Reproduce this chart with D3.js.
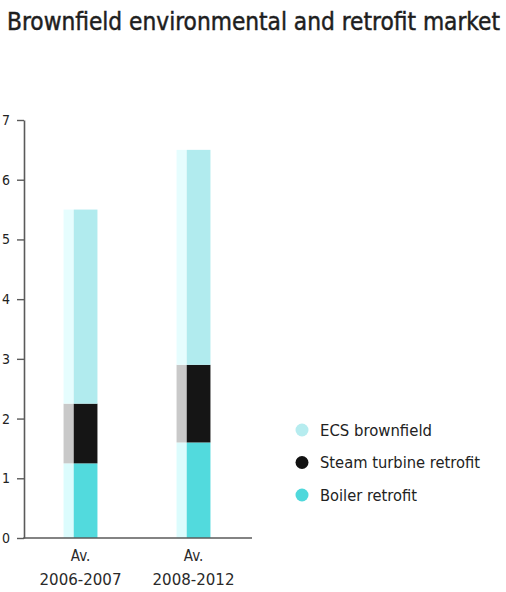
<!DOCTYPE html>
<html>
<head>
<meta charset="utf-8">
<script src="https://cdn.jsdelivr.net/npm/d3@7/dist/d3.min.js"></script>
<style>
  html, body { margin: 0; padding: 0; background: #fff; }
  svg { display: block; }
  text { font-family: "DejaVu Sans Condensed", "DejaVu Sans", sans-serif; }
</style>
</head>
<body>
<svg id="chart" width="506" height="592"></svg>
<script>
// Market size by period (stacked, bottom to top)
const periods = ["2006-2007", "2008-2012"];
const periodPrefix = ["Av.", "Av."];
const boilerRetrofit = [1.25, 1.6];
const steamTurbineRetrofit = [1.0, 1.3];
const ecsBrownfield = [3.25, 3.6];
const yTickValues = [0, 1, 2, 3, 4, 5, 6, 7];

const seriesKeys = ["boiler", "steam", "ecs"];
const seriesLabels = { ecs: "ECS brownfield", steam: "Steam turbine retrofit", boiler: "Boiler retrofit" };
const legendOrder = ["ecs", "steam", "boiler"];

const frontColor = { boiler: "#52dadd", steam: "#151515", ecs: "#b1ebee" };
const sideColor  = { boiler: "#dcfcfd", steam: "#c9c9c9", ecs: "#e6fdfe" };
const dotColor   = { boiler: "#4fd8db", steam: "#111111", ecs: "#b6ecef" };

const rows = periods.map((p, i) => ({
  period: p,
  boiler: boilerRetrofit[i],
  steam: steamTurbineRetrofit[i],
  ecs: ecsBrownfield[i]
}));

const svg = d3.select("#chart");

// Title
svg.append("text")
  .attr("x", 7).attr("y", 30)
  .attr("font-size", 24)
  .attr("fill", "#1e1e1e")
  .attr("stroke", "#1e1e1e").attr("stroke-width", 0.45)
  .attr("textLength", 493)
  .attr("lengthAdjust", "spacingAndGlyphs")
  .text("Brownfield environmental and retrofit market");

const x = d3.scaleBand().domain(periods).range([24, 250]).paddingInner(0.7).paddingOuter(0.35);
const y = d3.scaleLinear().domain([0, 7]).range([538, 120]);

const stacked = d3.stack().keys(seriesKeys)(rows);

const sideFrac = 0.3;
const layers = svg.append("g").selectAll("g")
  .data(stacked).join("g");

// Lighter side face of each bar segment
layers.selectAll("rect.side")
  .data(d => d.map(v => ({ key: d.key, v })))
  .join("rect").attr("class", "side")
  .attr("x", d => x(d.v.data.period))
  .attr("width", x.bandwidth() * sideFrac)
  .attr("y", d => y(d.v[1]))
  .attr("height", d => y(d.v[0]) - y(d.v[1]))
  .attr("fill", d => sideColor[d.key]);

// Front face
layers.selectAll("rect.front")
  .data(d => d.map(v => ({ key: d.key, v })))
  .join("rect").attr("class", "front")
  .attr("x", d => x(d.v.data.period) + x.bandwidth() * sideFrac)
  .attr("width", x.bandwidth() * (1 - sideFrac))
  .attr("y", d => y(d.v[1]))
  .attr("height", d => y(d.v[0]) - y(d.v[1]))
  .attr("fill", d => frontColor[d.key]);

// Y axis
const yAxis = svg.append("g")
  .attr("transform", "translate(24,0)")
  .call(d3.axisLeft(y).tickValues(yTickValues).tickSize(7).tickSizeOuter(0).tickPadding(7).tickFormat(d3.format("d")));
yAxis.select(".domain").attr("stroke", "#5a5a5a").attr("stroke-width", 1.6);
yAxis.selectAll(".tick line").attr("stroke", "#5a5a5a").attr("stroke-width", 1.4);
yAxis.selectAll(".tick text")
  .attr("font-size", 14)
  .attr("fill", "#222")
  .style("font-family", "\"DejaVu Sans Condensed\", \"DejaVu Sans\", sans-serif");

// X baseline
svg.append("line")
  .attr("x1", 23.2).attr("x2", 252)
  .attr("y1", y(0)).attr("y2", y(0))
  .attr("stroke", "#5a5a5a").attr("stroke-width", 1.6);

// X category labels
const xl = svg.append("g").selectAll("g").data(periods).join("g")
  .attr("transform", d => `translate(${x(d) + x.bandwidth() / 2},0)`);
xl.append("text")
  .attr("y", 561).attr("text-anchor", "middle")
  .attr("font-size", 15).attr("fill", "#2a2a2a")
  .text((d, i) => periodPrefix[i]);
xl.append("text")
  .attr("y", 585).attr("text-anchor", "middle")
  .attr("font-size", 15).attr("fill", "#2a2a2a")
  .attr("textLength", 82).attr("lengthAdjust", "spacingAndGlyphs")
  .text(d => d);

// Legend
const legendY = d3.scalePoint().domain(legendOrder).range([430, 495]);
const legendWidths = { ecs: 112, steam: 160, boiler: 97 };
const lg = svg.append("g").selectAll("g").data(legendOrder).join("g")
  .attr("transform", d => `translate(0,${legendY(d)})`);
lg.append("circle")
  .attr("cx", 302).attr("cy", 0).attr("r", 6.5)
  .attr("fill", d => dotColor[d]);
lg.append("text")
  .attr("x", 320).attr("y", 5.5)
  .attr("font-size", 15).attr("fill", "#222")
  .attr("textLength", d => legendWidths[d])
  .attr("lengthAdjust", "spacingAndGlyphs")
  .text(d => seriesLabels[d]);
</script>
</body>
</html>
